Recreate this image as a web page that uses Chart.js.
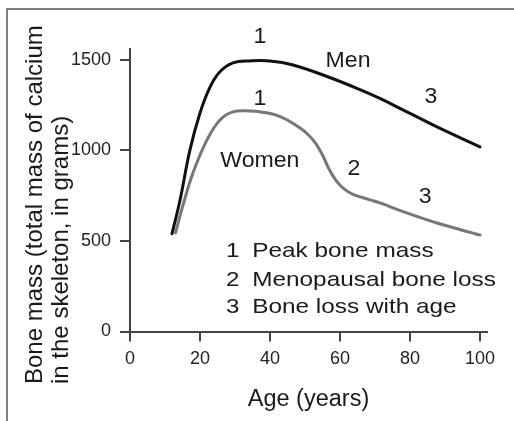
<!DOCTYPE html>
<html>
<head>
<meta charset="utf-8">
<script src="https://cdn.jsdelivr.net/npm/chart.js@4.4.1/dist/chart.umd.min.js"></script>
<style>
  html, body { margin: 0; padding: 0; background: #fff; }
  #wrap { position: relative; width: 514px; height: 421px; }
</style>
</head>
<body>
<div id="wrap"><canvas id="bone" width="514" height="421"></canvas></div>
<script>
// ── data ──────────────────────────────────────
const MEN_AGE    = [12, 14.3, 17.1, 20, 22.9, 25.7, 29.4, 34.3, 40, 46.6, 56.3, 65.7, 71.4, 78, 87.7, 100];
const MEN_MASS   = [540, 726, 1000, 1207, 1351, 1434, 1483, 1494, 1494, 1472, 1408, 1336, 1287, 1224, 1130, 1020];
const WOMEN_AGE  = [13, 15, 18, 22, 25.7, 29.4, 34.3, 37, 42.9, 48.6, 51, 53, 55, 57, 59, 61, 63.7, 68.6, 71.4, 78, 87.7, 100];
const WOMEN_MASS = [545, 688, 876, 1058, 1168, 1213, 1218, 1214, 1187, 1124, 1085, 1040, 975, 892, 830, 790, 757, 727, 710, 662, 599, 533];

const X_TICKS = [0, 20, 40, 60, 80, 100];
const Y_TICKS = [0, 500, 1000, 1500];

const CURVE_NOTES = ['1', 'Men', '3', '1', 'Women', '2', '3'];
const KEY_NUMS    = ['1', '2', '3'];
const KEY_TEXT    = ['Peak bone mass', 'Menopausal bone loss', 'Bone loss with age'];
const Y_TITLE     = ['Bone mass (total mass of calcium', 'in the skeleton, in grams)'];
const X_TITLE     = 'Age (years)';

// ── layout / style ────────────────────────────
const FONT = '"Liberation Sans", Arial, Helvetica, sans-serif';
const INK  = '#1a1a1a';
const AXIS = '#444';

// anchors (age, mass) for the curve notes, text centred, alphabetic baseline
const NOTE_AT = [[37.1, 1594], [62.3, 1463], [86, 1261], [37.1, 1251], [37.1, 910], [64, 865], [84.3, 708]];

const pts = (xs, ys) => xs.map((x, i) => ({ x, y: ys[i] }));

function stretchText(ctx, txt, x, y, sx, align) {
    ctx.save();
    ctx.translate(x, y);
    ctx.scale(sx, 1);
    ctx.textAlign = align;
    ctx.fillText(txt, 0, 0);
    ctx.restore();
}

const decor = {
    id: 'decor',
    beforeDraw(chart) {
        const c = chart.ctx;
        c.save();
        c.strokeStyle = '#555';
        c.lineWidth = 1.5;
        c.beginPath();
        c.moveTo(7, 421);
        c.lineTo(7, 9);
        c.lineTo(514, 9);
        c.stroke();
        c.restore();
    },
    afterDraw(chart) {
        const c = chart.ctx;
        const xs = chart.scales.x, ys = chart.scales.y;
        c.save();
        c.fillStyle = INK;
        c.textBaseline = 'alphabetic';

        // notes along the curves
        c.font = `22px ${FONT}`;
        CURVE_NOTES.forEach((t, i) => {
            const [a, m] = NOTE_AT[i];
            stretchText(c, t, xs.getPixelForValue(a), ys.getPixelForValue(m), 1.05, 'center');
        });

        // numbered key
        c.font = `21px ${FONT}`;
        const keyMass = [411.6, 251, 100.5];
        KEY_NUMS.forEach((n, i) => {
            const y = ys.getPixelForValue(keyMass[i]);
            stretchText(c, n, xs.getPixelForValue(27.4), y, 1.15, 'left');
            stretchText(c, KEY_TEXT[i], xs.getPixelForValue(34.9), y, 1.16, 'left');
        });

        // y title, two lines, bottom-aligned
        c.font = `24px ${FONT}`;
        c.translate(0, 384);
        c.rotate(-Math.PI / 2);
        c.textAlign = 'left';
        c.fillText(Y_TITLE[0], 0, 41.7);
        c.fillText(Y_TITLE[1], 0, 68.3);
        c.restore();
    },
};

const line = (label, data, color) => ({
    label, data,
    borderColor: color,
    borderWidth: 3,
    borderCapStyle: 'round',
    pointRadius: 0,
    tension: 0.4,
});

new Chart(document.getElementById('bone'), {
    type: 'line',
    data: {
        datasets: [
            line('Men',   pts(MEN_AGE, MEN_MASS),     '#111'),
            line('Women', pts(WOMEN_AGE, WOMEN_MASS), '#777'),
        ],
    },
    options: {
        responsive: false,
        animation: false,
        devicePixelRatio: 1,
        layout: { padding: { left: 8, top: 49, right: 27, bottom: 0 } },
        plugins: { legend: { display: false }, tooltip: { enabled: false } },
        scales: {
            x: {
                type: 'linear',
                min: 0,
                max: 102,
                afterBuildTicks: s => { s.ticks = X_TICKS.map(v => ({ value: v })); },
                afterFit: s => { s.height = 89.5; },
                ticks: {
                    color: '#222', padding: 7, maxRotation: 0, autoSkip: false,
                    font: { family: FONT, size: 18 },
                    callback: v => String(v),
                },
                grid: { drawOnChartArea: false, tickLength: 10, color: AXIS, lineWidth: 2 },
                border: { color: AXIS, width: 2 },
                title: {
                    display: true,
                    text: X_TITLE,
                    color: INK,
                    font: { family: FONT, size: 23.5 },
                    padding: { top: 4, bottom: 7 },
                },
            },
            y: {
                min: 0,
                max: 1560,
                afterBuildTicks: s => { s.ticks = Y_TICKS.map(v => ({ value: v })); },
                afterFit: s => { s.width = 122; },
                ticks: {
                    color: '#222', padding: 9,
                    font: { family: FONT, size: 18 },
                    callback: v => String(v),
                },
                grid: { drawOnChartArea: false, tickLength: 10, color: AXIS, lineWidth: 2 },
                border: { color: AXIS, width: 2 },
            },
        },
    },
    plugins: [decor],
});
</script>
</body>
</html>
